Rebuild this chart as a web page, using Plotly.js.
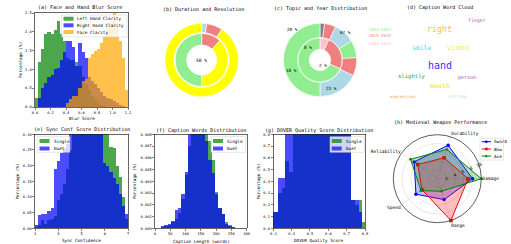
<!DOCTYPE html>
<html><head><meta charset="utf-8">
<script src="https://cdn.plot.ly/plotly-3.0.1.min.js"></script>
<style>html,body{margin:0;padding:0;background:#fff}#chart{width:511px;height:244px}</style>
</head><body><div id="chart"></div>
<script>
// ---------- DATA ----------
// (a) Face and Hand Blur Score : 30 bins from 0 to 1.2
const blurStart = 0, blurBin = 0.04;
const leftHand  = [0.25,1.2,1.55,1.95,2.0,1.95,2.05,2.3,1.95,1.75,1.3,1.25,1.25,1.2,1.1,0.8,0.6,0.45,0.3,0.2,0.1,0.05,0.03,0,0,0,0,0,0,0];
const rightHand = [0,0.25,0.5,0.65,0.8,0.85,1.0,1.05,1.25,1.45,1.75,1.75,1.6,1.1,1.7,1.45,1.3,0.8,0.7,0.6,0.5,0.4,0.3,0.25,0.2,0.15,0.1,0.05,0.02,0];
const faceClar  = [0,0,0,0,0,0,0,0,0,0,0.1,0.2,0.3,0.3,0.5,0.7,0.75,1.3,1.4,1.5,1.55,1.7,1.9,2.1,2.25,2.5,2.1,1.75,1.3,0.45];
// (b) Duration and Resolution
const durOuter = [2.2, 7, 90.8];
const durInner = [12, 38, 50];
// (c) Topic and Year Distribution
const topicOuter = [2, 5, 9.5, 7.5, 8, 18, 50];
const yearInner  = [6.5, 25, 68.5];
const yearLabels = ['2020-2023','2015-2019','2004-2014'];
const topicPctLabels = ['20 %','67 %','8 %','2 %','18 %','23 %'];
// (d) Caption Word Cloud
const words = ['finger','right','smile','video','hand','slightly','person','mouth','expression','sitting'];
// (e) Sync Conf Score : 30 bins from 3 to 7
const syncStart = 3, syncBin = 4/30;
const syncSingle = [0.005,0.01,0.025,0.015,0.025,0.03,0.04,0.09,0.11,0.14,0.19,0.25,0.33,0.37,0.41,0.44,0.46,0.47,0.45,0.42,0.38,0.35,0.31,0.305,0.26,0.255,0.2,0.165,0.1,0.03];
const syncDuet   = [0.01,0.043,0.045,0.047,0.055,0.065,0.19,0.215,0.24,0.255,0.27,0.31,0.34,0.38,0.42,0.45,0.47,0.46,0.44,0.41,0.37,0.31,0.21,0.2,0.18,0.16,0.14,0.11,0.07,0.046];
// (f) Caption Words : bins of 11 words from 20
const capStart = 20, capBin = 11;
const capSingle = [0.0001,0.0002,0.0003,0.0005,0.0008,0.0013,0.0025,0.0045,0.007,0.0095,0.011,0.012,0.0115,0.0088,0.0074,0.0058,0.0031,0.0017,0.0012,0.0005,0.0003,0.0001];
const capDuet   = [0.0002,0.0003,0.0004,0.0006,0.0016,0.0017,0.0029,0.0048,0.0085,0.0105,0.0115,0.012,0.011,0.0074,0.0058,0.0047,0.0029,0.0017,0.0012,0.0004,0.0002,0.0001];
// (g) DOVER Quality Score : bins of 0.02 from 0.285
const dovStart = 0.285, dovBin = 0.02;
const dovSingle = [0.14,0.14,0.3,0.34,0.57,0.48,0.9,1.1,1.3,1.6,1.9,2.1,2.3,2.4,2.4,2.3,2.1,1.9,1.6,1.3,1.0,0.83,0.24,0.2,0.24,0.05];
const dovDuet   = [0.14,0.14,0.43,0.43,0.85,0.88,1.0,1.2,1.4,1.7,2.0,2.2,2.35,2.4,2.35,2.2,2.0,1.8,1.5,1.2,0.95,0.81,0.24,0.24,0.14,0];
// (h) Medieval Weapon Performance
const weaponAxes = ['Damage','Durability','Reliability','Speed','Range'];
const sword = [8, 8, 6.5, 6, 5];
const bow   = [7, 5, 5.5, 4.3, 10];
const axe   = [10, 7, 7.5, 4.6, 3];
const radialTicks = [2,4,6,8,10];

// ---------- STYLE / LAYOUT ----------
const W = 511, H = 244;
const F = 'DejaVu Sans Mono, monospace';
const px = x => x / W, py = y => 1 - y / H;
const GREEN = 'rgba(0,128,0,0.7)', BLUE = 'rgba(0,0,255,0.7)', ORANGE = 'rgba(255,165,0,0.7)';

function centers(start, w, n){ const c=[]; for(let i=0;i<n;i++) c.push(start + w*(i+0.5)); return c; }
function hist(vals, start, w, color, name, xa, ya){
  return {type:'bar', x: centers(start,w,vals.length), y: vals, width: w, name,
    marker:{color, line:{width:0}}, xaxis:xa, yaxis:ya, showlegend:false, hoverinfo:'skip'};
}
function axis(x0,x1,range,dtick,fmt,anchor,isY,y0,y1){
  const o = {range, dtick, tick0: range[0], tickformat: fmt, showline:true, linecolor:'#000', linewidth:0.6,
    mirror:true, ticks:'outside', ticklen:2, tickwidth:0.5, tickcolor:'#000',
    tickfont:{family:F, size:3.7, color:'#000'}, showgrid:false, zeroline:false, anchor, fixedrange:true};
  o.domain = isY ? [py(y1), py(y0)] : [px(x0), px(x1)];
  return o;
}
const annotations = [];
function txt(text, x, y, size, color, xanchor, angle){
  annotations.push({text, x:px(x), y:py(y), xref:'paper', yref:'paper', showarrow:false,
    xanchor: xanchor||'center', yanchor:'middle', textangle: angle||0,
    font:{family:F, size, color: color||'#000'}, borderpad:0});
}
const shapes = [];
function rect(x0,y0,x1,y1,fill,line,op){
  shapes.push({type:'rect', xref:'paper', yref:'paper', x0:px(x0), x1:px(x1), y0:py(y1), y1:py(y0),
    fillcolor:fill, opacity: op==null?1:op, line: line?{color:line,width:0.5}:{width:0}});
}
function legendBox(x0,y0,x1,y1){ rect(x0,y0,x1,y1,'rgba(255,255,255,0.8)','#cccccc'); }

const traces = [];
// (a)
traces.push(hist(leftHand, blurStart, blurBin, GREEN, 'Left Hand Clarity', 'x','y'));
traces.push(hist(rightHand, blurStart, blurBin, BLUE, 'Right Hand Clarity', 'x','y'));
traces.push(hist(faceClar, blurStart, blurBin, ORANGE, 'Face Clarity', 'x','y'));
// (e)
traces.push(hist(syncSingle, syncStart, syncBin, GREEN, 'Single', 'x2','y2'));
traces.push(hist(syncDuet, syncStart, syncBin, BLUE, 'Duet', 'x2','y2'));
// (f)
traces.push(hist(capSingle, capStart, capBin, GREEN, 'Single', 'x3','y3'));
traces.push(hist(capDuet, capStart, capBin, BLUE, 'Duet', 'x3','y3'));
// (g)
traces.push(hist(dovSingle, dovStart, dovBin, GREEN, 'Single', 'x4','y4'));
traces.push(hist(dovDuet, dovStart, dovBin, BLUE, 'Duet', 'x4','y4'));

// pies
function pie(vals, colors, cx, cy, r, hole){
  return {type:'pie', values: vals, marker:{colors, line:{color:'white', width:0.6}}, hole,
    sort:false, direction:'clockwise', rotation:0, textinfo:'none', hoverinfo:'skip', showlegend:false,
    domain:{x:[px(cx-r), px(cx+r)], y:[py(cy+r), py(cy-r)]}};
}
traces.push(pie(durOuter, ['lightblue','lightcoral','yellow'], 201.7, 60, 36.7, 0.75));
traces.push(pie(durInner, ['lightcoral','yellow','lightgreen'], 201.7, 60, 26.5, 0.57));
traces.push(pie(topicOuter, ['gray','lightcoral','lightblue','lightgreen','lightcoral','lightblue','lightgreen'], 320, 60, 36.7, 0.61));
traces.push(pie(yearInner, ['pink','lightcoral','lightgreen'], 320, 60, 22, 0.49));

// radar
function radar(vals, color, fill, symbol, name){
  return {type:'scatterpolar', r: vals.concat([vals[0]]), theta: weaponAxes.concat([weaponAxes[0]]),
    mode:'lines+markers', fill:'toself', fillcolor: fill, line:{color, width:1},
    marker:{color, size:3.5, symbol}, name, showlegend:false, hoverinfo:'skip', subplot:'polar'};
}
traces.push(radar(sword, 'blue', 'rgba(0,0,255,0.25)', 'circle', 'Sword'));
traces.push(radar(bow, 'red', 'rgba(255,0,0,0.25)', 'square', 'Bow'));
traces.push(radar(axe, 'green', 'rgba(0,128,0,0.25)', 'triangle-up', 'Axe'));

// titles
txt('(a) Face and Hand Blur Score', 80, 6.7, 5);
txt('(b) Duration and Resolution', 203.3, 9, 5);
txt('(c) Topic and Year Distribution', 320, 9, 5);
txt('(d) Caption Word Cloud', 440, 7.3, 5);
txt('(e) Sync Conf Score Distribution', 81.5, 129.5, 5);
txt('(f) Caption Words Distribution', 201, 130, 5);
txt('(g) DOVER Quality Score Distribution', 319, 130, 5);
txt('(h) Medieval Weapon Performance', 440, 122.3, 5);
// axis titles
txt('Blur Score', 81.5, 118, 4.3);
txt('Sync Confidence', 81.5, 240, 4.3);
txt('Caption Length (words)', 201, 241, 4.3);
txt('DOVER Quality Score', 319, 240.7, 4.3);
txt('Percentage (%)', 20, 60, 4.3, '#000', 'center', -90);
txt('Percentage (%)', 17.3, 181.3, 4.3, '#000', 'center', -90);
txt('Percentage (%)', 134, 181.3, 4.3, '#000', 'center', -90);
txt('Percentage (%)', 258.3, 181.3, 4.3, '#000', 'center', -90);
// pie labels
txt('50 %', 201.7, 60, 4.6);
const pctPos = [[292.7,29.3],[345,32.3],[308.3,47.7],[323.3,66],[291.7,70],[331.7,88.3]];
topicPctLabels.forEach((t,i)=>txt(t, pctPos[i][0], pctPos[i][1], 4.3));
const yearColors = ['lightgreen','lightcoral','pink'];
const yearY = [29.3, 35.7, 43.3];
yearLabels.forEach((t,i)=>txt(t, 368.3, yearY[i], 4, yearColors[i], 'left'));
// word cloud
const wordStyle = [
  [476.7,21,4.8,'#a05aa8'],[439.3,29,8.3,'#f2c53d'],[421.7,48.3,6.4,'#3fe0e8'],[457.7,47.7,7.4,'#f0f050'],
  [440,65,10,'#3333ff'],[412.3,76.7,5.6,'#3d9e3d'],[467.3,77,5,'#a050a8'],[440,85.7,6.6,'#e8e030'],
  [403.3,96.3,4.2,'#f0a040'],[458.3,96.3,4.2,'#a8d8e8']];
words.forEach((w,i)=>{ const s=wordStyle[i]; txt(w, s[0], s[1], s[2], s[3]); });

// legends (a)
legendBox(61.7,15,127,37);
[[GREEN,18.7,'Left Hand Clarity'],[BLUE,25.3,'Right Hand Clarity'],[ORANGE,32,'Face Clarity']].forEach(e=>{
  rect(63.5,e[1]-2,73.5,e[1]+2,e[0],null,1); txt(e[2],76,e[1],4.3,'#000','left');});
// legends e,f,g
function sdLegend(x0,x1,pX,tX){
  legendBox(x0,136.7,x1,152.3);
  rect(pX,139,pX+10,143,GREEN,null,1); txt('Single',tX,141,4.3,'#000','left');
  rect(pX,146.5,pX+10,150.5,BLUE,null,1); txt('Duet',tX,148.5,4.3,'#000','left');
}
sdLegend(37.3,70,39.5,52.5);
sdLegend(211,245.7,213,226.2);
sdLegend(330,364.3,331.7,345.2);
// legend (h)
legendBox(480,138.3,503.3,160);
[['blue',141.7,'Sword','c'],['red',149,'Bow','s'],['green',156,'Axe','t']].forEach(e=>{
  shapes.push({type:'line',xref:'paper',yref:'paper',x0:px(481.7),x1:px(491),y0:py(e[1]),y1:py(e[1]),line:{color:e[0],width:1}});
  const cx=486.3, cy=e[1], r=1.3;
  if(e[3]==='c') shapes.push({type:'circle',xref:'paper',yref:'paper',x0:px(cx-r),x1:px(cx+r),y0:py(cy+r),y1:py(cy-r),fillcolor:e[0],line:{width:0}});
  else if(e[3]==='s') rect(cx-r,cy-r,cx+r,cy+r,e[0],null,1);
  else shapes.push({type:'path',xref:'paper',yref:'paper',path:`M ${px(cx-r)} ${py(cy+r)} L ${px(cx+r)} ${py(cy+r)} L ${px(cx)} ${py(cy-r*1.1)} Z`,fillcolor:e[0],line:{width:0}});
  txt(e[2],493.3,e[1],4.3,'#000','left');
});

const layout = {
  width: W, height: H, margin:{l:0,r:0,t:0,b:0}, paper_bgcolor:'#fff', plot_bgcolor:'#fff',
  showlegend:false, barmode:'overlay', bargap:0, bargroupgap:0, font:{family:F, size:4, color:'#000'},
  xaxis:  axis(35,128,[0,1.2],0.2,'.1f','y',false),
  yaxis:  axis(0,0,[0,2.5],0.5,'.1f','x',true,13,107),
  xaxis2: axis(35,128,[3,7],1,'d','y2',false),
  yaxis2: axis(0,0,[0,0.3],0.05,'.2f','x2',true,134.3,228.3),
  xaxis3: axis(155,246.7,[0,300],50,'d','y3',false),
  yaxis3: axis(0,0,[0,0.008],0.001,'.3f','x3',true,134.3,228.3),
  xaxis4: axis(273.3,365,[0.3,0.8],0.1,'.1f','y4',false),
  yaxis4: axis(0,0,[0,0.8],0.1,'.1f','x4',true,134.3,228.3),
  polar: {domain:{x:[px(393.3),px(481.3)], y:[py(222.7),py(134.7)]}, bgcolor:'#fff',
    angularaxis:{rotation:0, direction:'counterclockwise', tickfont:{family:F,size:4.5,color:'#000'},
      linecolor:'#333', linewidth:0.8, gridcolor:'#d0d0d0', gridwidth:0.5, ticks:''},
    radialaxis:{range:[0,10], tickvals:radialTicks, angle:22.5, tickangle:0, showline:false,
      gridcolor:'#d0d0d0', gridwidth:0.5, ticks:'', tickfont:{family:F,size:4.5,color:'#000'}}},
  annotations, shapes
};
Plotly.newPlot('chart', traces, layout, {staticPlot:true, displayModeBar:false});
</script></body></html>
